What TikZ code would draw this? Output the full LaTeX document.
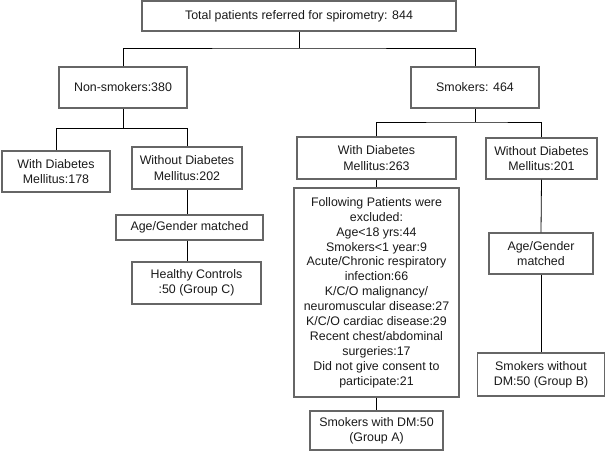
\documentclass[tikz,border=0pt]{standalone}
\usepackage{fontspec}
\setmainfont{Liberation Sans}
\begin{document}
\begin{tikzpicture}[x=1pt,y=-1pt,
  box/.style={draw=black!60, line width=1.2pt, rectangle, align=center, inner sep=0pt,
    font=\fontsize{12.4}{15.3}\selectfont, text=black!90},
  link/.style={draw=black, line width=0.8pt}]
\useasboundingbox (0,0) rectangle (606,451);
\node[box, minimum width=314, minimum height=30] (top) at (299,16) {Total patients referred for spirometry: 844};
\node[box, minimum width=128, minimum height=41] (ns) at (123,87.5) {Non-smokers:380};
\node[box, minimum width=128, minimum height=41] (sm) at (475,87.5) {Smokers: 464};
\node[box, minimum width=108, minimum height=41] (wdmA) at (56,171.5) {With Diabetes\\Mellitus:178};
\node[box, minimum width=110, minimum height=42] (wodmA) at (187,168) {Without Diabetes\\Mellitus:202};
\node[box, minimum width=147, minimum height=25] (agA) at (189.5,227.5) {Age/Gender matched};
\node[box, minimum width=129, minimum height=42] (hc) at (196.5,283) {Healthy Controls\\:50 (Group C)};
\node[box, minimum width=159, minimum height=42] (wdmB) at (376.5,158) {With Diabetes\\Mellitus:263};
\node[box, minimum width=111, minimum height=41] (wodmB) at (541.5,158.5) {Without Diabetes\\Mellitus:201};
\node[box, minimum width=165, minimum height=209, font=\fontsize{12.4}{14.9}\selectfont] (excl) at (376.5,292.5) {Following Patients were\\excluded:\\Age<18 yrs:44\\Smokers<1 year:9\\Acute/Chronic respiratory\\infection:66\\K/C/O malignancy/\\neuromuscular disease:27\\K/C/O cardiac disease:29\\Recent chest/abdominal\\surgeries:17\\Did not give consent to\\participate:21};
\node[box, minimum width=133, minimum height=39] (gA) at (376.5,430.5) {Smokers with DM:50\\(Group A)};
\node[box, minimum width=104, minimum height=41] (agB) at (541,253.5) {Age/Gender\\matched};
\node[box, minimum width=127, minimum height=43] (gB) at (541,374.5) {Smokers without\\DM:50 (Group B)};
\coordinate (j1) at (299,48);
\coordinate (j2) at (123,128.5);
\coordinate (j3) at (475,122);
\draw[link] (top.south) -- (j1);
\draw[link] (ns.north) |- (j1) -| (sm.north);
\draw[link] (ns.south) -- (j2);
\draw[link] (wdmA.north) |- (j2) -| (wodmA.north);
\draw[link] (sm.south) -- (j3);
\draw[link] (wdmB.north) |- (j3) -| (wodmB.north);
\draw[link] (wodmA.south) -- (wodmA.south |- agA.north);
\draw[link] (agA.south -| wodmA.south) -- (hc.north -| wodmA.south);
\draw[link] (wdmB.south) -- (excl.north);
\draw[link] (excl.south) -- (gA.north);
\draw[link] (wodmB.south) -- (agB.north);
\draw[link] (agB.south) -- (gB.north);
\end{tikzpicture}
\end{document}
